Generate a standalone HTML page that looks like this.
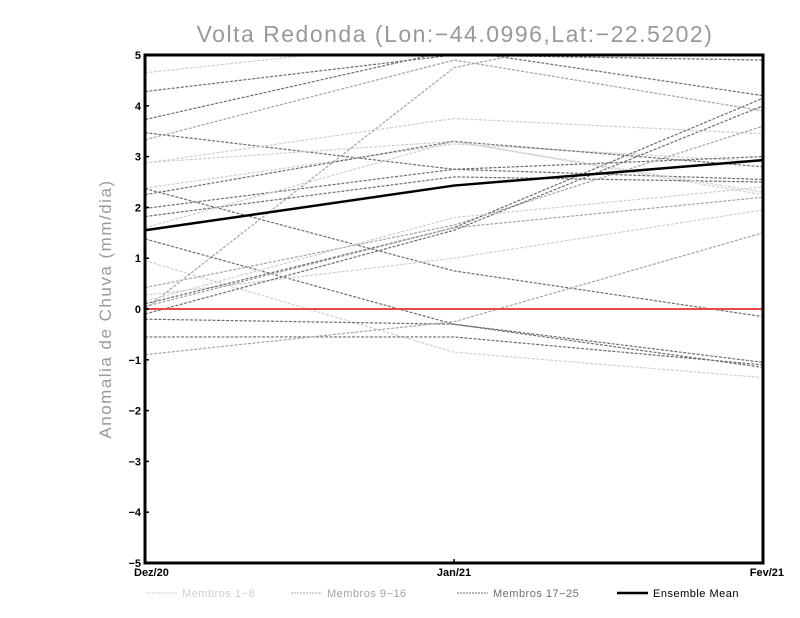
<!DOCTYPE html>
<html><head><meta charset="utf-8"><style>
body{margin:0;background:#fff;width:800px;height:618px;overflow:hidden}
svg{display:block;font-family:"Liberation Sans",sans-serif}
</style></head><body>
<svg id="chart" width="800" height="618" viewBox="0 0 800 618">
<defs><clipPath id="pc"><rect x="145" y="55" width="618" height="508"/></clipPath></defs>
<text x="455" y="42" text-anchor="middle" font-size="23" fill="#999" letter-spacing="1.5" font-weight="300">Volta Redonda (Lon:−44.0996,Lat:−22.5202)</text>
<text transform="translate(111,309) rotate(-90)" text-anchor="middle" font-size="17" fill="#9a9a9a" letter-spacing="1.5">Anomalia de Chuva (mm/dia)</text>
<g id="members" clip-path="url(#pc)"></g>
<g id="axes"></g>
<g id="legend"></g>
</svg>
<script>
const categories=["Dez/20","Jan/21","Fev/21"];
const yTicks=[-5,-4,-3,-2,-1,0,1,2,3,4,5];
const ensembleMean=[1.55,2.43,2.93];
const memberGroups=[0,2,2,1,2,0,0,0,2,2,2,2,2,0,1,1,0,2,1,2,2,2,1,0,0];
const memberValues=[
[4.65,5.3,5.5],[4.28,5.0,4.9],[3.73,5.1,4.2],[3.33,4.9,3.9],[3.47,2.75,2.55],
[2.88,3.3,2.25],[2.87,3.75,3.45],[2.38,3.25,2.9],[2.25,3.3,2.8],[1.98,2.75,3.0],
[1.82,2.6,2.5],[2.37,0.75,-0.15],[1.38,-0.3,-1.15],[0.95,-0.85,-1.35],[0.0,4.75,6.0],
[0.42,1.65,3.6],[0.27,1.0,1.95],[0.1,1.6,4.15],[0.05,1.6,2.2],[-0.1,1.55,4.0],
[-0.2,-0.3,-1.05],[-0.55,-0.55,-1.1],[-0.9,-0.25,1.5],[0.15,1.8,2.4],[1.6,3.3,2.3]];
const groupLabels=["Membros 1-8","Membros 9-16","Membros 17-25","Ensemble Mean"];
const groupColors=["#cfcfcf","#a4a4a4","#6e6e6e"];
const X0=145,X1=763,Y0=563,Y1=55;
const xs=i=>X0+(X1-X0)*i/(categories.length-1);
const ys=v=>Y0-(v+5)/10*(Y0-Y1);
const NS="http://www.w3.org/2000/svg";
function mk(t,a,p){const e=document.createElementNS(NS,t);for(const k in a)e.setAttribute(k,a[k]);p.appendChild(e);return e;}
const mg=document.getElementById('members');
memberValues.forEach((vals,m)=>{
  const pl=mk('polyline',{points:vals.map((v,i)=>xs(i)+','+ys(v)).join(' '),fill:'none',stroke:groupColors[memberGroups[m]],'stroke-width':1.2,'stroke-dasharray':'3 1.5'},mg);
  
  
});
const ax=document.getElementById('axes');
const zl=mk('line',{x1:X0,x2:X1,y1:ys(0),y2:ys(0),stroke:'#f04848','stroke-width':2},ax);


const em=mk('polyline',{points:ensembleMean.map((v,i)=>xs(i)+','+ys(v)).join(' '),fill:'none',stroke:'#000','stroke-width':2.5},ax);


const fr=mk('rect',{x:X0,y:Y1,width:X1-X0,height:Y0-Y1,fill:'none',stroke:'#000','stroke-width':3},ax);


yTicks.forEach(t=>{
  const tl=mk('line',{x1:X0,x2:X0+4,y1:ys(t),y2:ys(t),stroke:'#000','stroke-width':1.5},ax);
  
  
  const tx=mk('text',{x:X0-4,y:ys(t)+4,'text-anchor':'end','font-size':11,'font-weight':'bold'},ax);
  tx.textContent=(t<0?'−':'')+Math.abs(t);
  
  
});
categories.forEach((c,i)=>{
  const tl=mk('line',{x1:xs(i),x2:xs(i),y1:Y0,y2:Y0-4,stroke:'#000','stroke-width':1.5},ax);
  
  
  const tx=mk('text',{x:xs(i),y:Y0+13,'text-anchor':i==0?'start':(i==categories.length-1?'end':'middle'),'font-size':11,'font-weight':'bold'},ax);
  if(i==0)tx.setAttribute('x',X0-11);
  if(i==categories.length-1)tx.setAttribute('x',X1+21);
  tx.textContent=c;
  
  
});
const lg=document.getElementById('legend');
const lx=[146,291,457,617];
groupLabels.forEach((g,i)=>{
  const ln=mk('line',{x1:lx[i],x2:lx[i]+31,y1:593,y2:593,stroke:i<3?groupColors[i]:'#000','stroke-width':i<3?1:2.5,'stroke-dasharray':i<3?'2 1':'none'},lg);
  
  
  const tx=mk('text',{x:lx[i]+36,y:597,'font-size':11,fill:i<3?groupColors[i]:'#000','letter-spacing':'0.5'},lg);
  tx.textContent=g.replace('-','−');
  
  
});
</script>
</body></html>
